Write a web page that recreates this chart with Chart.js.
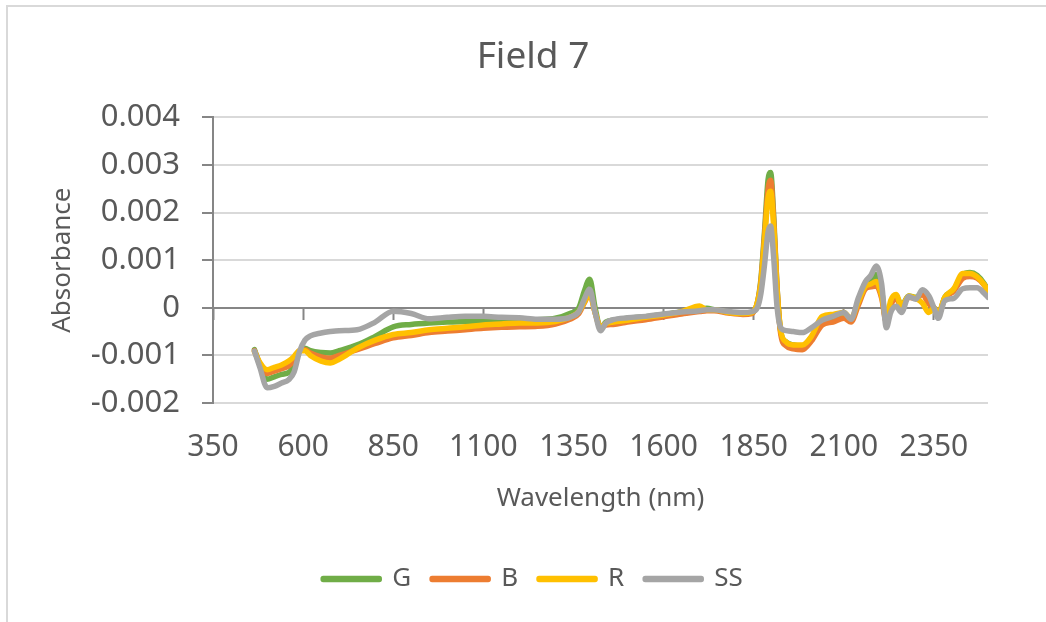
<!DOCTYPE html>
<html>
<head>
<meta charset="utf-8">
<script src="https://cdn.jsdelivr.net/npm/chart.js@4.4.1/dist/chart.umd.min.js"></script>
<style>
  html, body { margin: 0; padding: 0; background: #ffffff; overflow: hidden; width: 1046px; height: 622px; }
  #frame { position: absolute; left: 6px; top: 5px; width: 1200px; height: 800px;
           border-top: 2px solid #d9d9d9; border-left: 2px solid #d9d9d9; }
  #wrap { position: absolute; left: 0; top: 0; width: 1066px; height: 622px; }
</style>
</head>
<body>
<div id="frame"></div>
<div id="wrap"><canvas id="c" width="1066" height="622"></canvas></div>
<script>
// ---- data ----
const chartTitle = "Field 7";
const xTitle = "Wavelength (nm)";
const yTitle = "Absorbance";
const seriesNames = ["G", "B", "R", "SS"];
const xTickValues = [350, 600, 850, 1100, 1350, 1600, 1850, 2100, 2350];
const yTickValues = [-0.002, -0.001, 0, 0.001, 0.002, 0.003, 0.004];

const wavelengths = [465, 480, 500, 520, 540, 560, 575, 590, 605, 620, 650, 675, 700, 750, 800, 850, 900, 950,
  1000, 1050, 1100, 1150, 1200, 1250, 1300, 1340, 1365, 1380, 1395, 1410, 1425, 1440, 1460, 1500, 1550,
  1600, 1650, 1700, 1720, 1740, 1780, 1820, 1845, 1860, 1870, 1880, 1890, 1897, 1905, 1915, 1925, 1940,
  1960, 1985, 2010, 2040, 2070, 2100, 2120, 2140, 2160, 2175, 2190, 2205, 2218, 2230, 2245, 2260, 2280,
  2300, 2318, 2336, 2350, 2362, 2380, 2405, 2430, 2450, 2470, 2490, 2500];

const gValues = [-0.00088, -0.00120, -0.00150, -0.00145, -0.00140, -0.00136, -0.00120, -0.00092, -0.00085, -0.00090,
  -0.00094, -0.00095, -0.00090, -0.00078, -0.00060, -0.00040, -0.00035, -0.00032, -0.00030, -0.00029,
  -0.00028, -0.00027, -0.00026, -0.00025, -0.00022, -0.00012, 0.00000, 0.00035, 0.00060, 0.00000,
  -0.00042, -0.00030, -0.00026, -0.00022, -0.00019, -0.00014, -0.00009, -0.00003, -0.00001, -0.00004,
  -0.00009, -0.00012, -0.00010, 0.00010, 0.00060, 0.00160, 0.00270, 0.00284, 0.00200, 0.00040,
  -0.00050, -0.00072, -0.00078, -0.00080, -0.00062, -0.00030, -0.00024, -0.00014, -0.00026, 0.00012,
  0.00048, 0.00055, 0.00070, 0.00035, -0.00030, 0.00008, 0.00025, 0.00005, 0.00025, 0.00022,
  0.00030, 0.00010, 0.00000, -0.00015, 0.00022, 0.00038, 0.00070, 0.00074, 0.00068, 0.00050, 0.00035];

const bValues = [-0.00090, -0.00118, -0.00138, -0.00133, -0.00128, -0.00122, -0.00110, -0.00090, -0.00088, -0.00095,
  -0.00103, -0.00106, -0.00100, -0.00088, -0.00075, -0.00063, -0.00058, -0.00052, -0.00049, -0.00046,
  -0.00043, -0.00041, -0.00040, -0.00039, -0.00034, -0.00024, -0.00012, 0.00010, 0.00030, -0.00010,
  -0.00040, -0.00036, -0.00035, -0.00030, -0.00025, -0.00019, -0.00013, -0.00008, -0.00006, -0.00006,
  -0.00011, -0.00014, -0.00012, 0.00010, 0.00055, 0.00150, 0.00250, 0.00268, 0.00190, 0.00040,
  -0.00055, -0.00080, -0.00086, -0.00088, -0.00070, -0.00036, -0.00030, -0.00022, -0.00030, 0.00005,
  0.00040, 0.00044, 0.00046, 0.00020, -0.00030, 0.00005, 0.00020, 0.00002, 0.00022, 0.00020,
  0.00028, 0.00008, 0.00000, -0.00015, 0.00020, 0.00035, 0.00062, 0.00066, 0.00062, 0.00047, 0.00033];

const rValues = [-0.00092, -0.00115, -0.00130, -0.00125, -0.00120, -0.00112, -0.00102, -0.00090, -0.00090, -0.00100,
  -0.00112, -0.00116, -0.00108, -0.00085, -0.00068, -0.00056, -0.00052, -0.00046, -0.00043, -0.00040,
  -0.00036, -0.00034, -0.00032, -0.00032, -0.00029, -0.00020, -0.00008, 0.00012, 0.00030, -0.00010,
  -0.00040, -0.00033, -0.00030, -0.00026, -0.00020, -0.00015, -0.00008, 0.00004, -0.00004, -0.00004,
  -0.00010, -0.00012, -0.00010, 0.00010, 0.00050, 0.00140, 0.00232, 0.00245, 0.00175, 0.00035,
  -0.00048, -0.00072, -0.00078, -0.00078, -0.00060, -0.00018, -0.00014, -0.00010, -0.00022, 0.00012,
  0.00045, 0.00050, 0.00055, 0.00025, -0.00025, 0.00015, 0.00028, 0.00003, 0.00025, 0.00020,
  0.00010, -0.00010, 0.00000, -0.00012, 0.00022, 0.00040, 0.00072, 0.00072, 0.00065, 0.00048, 0.00035];

const ssValues = [-0.00091, -0.00125, -0.00168, -0.00165, -0.00158, -0.00151, -0.00135, -0.00092, -0.00068, -0.00059,
  -0.00053, -0.00050, -0.00048, -0.00046, -0.00030, -0.00007, -0.00012, -0.00023, -0.00020, -0.00018,
  -0.00018, -0.00020, -0.00021, -0.00024, -0.00024, -0.00020, -0.00008, 0.00018, 0.00039, -0.00010,
  -0.00048, -0.00032, -0.00025, -0.00021, -0.00018, -0.00013, -0.00009, -0.00006, -0.00004, -0.00004,
  -0.00008, -0.00010, -0.00008, 0.00000, 0.00030, 0.00090, 0.00160, 0.00172, 0.00110, 0.00000,
  -0.00042, -0.00048, -0.00050, -0.00052, -0.00042, -0.00026, -0.00018, -0.00010, -0.00024, 0.00020,
  0.00055, 0.00068, 0.00088, 0.00050, -0.00042, -0.00010, 0.00003, -0.00010, 0.00024, 0.00018,
  0.00038, 0.00025, 0.00000, -0.00022, 0.00015, 0.00020, 0.00040, 0.00042, 0.00042, 0.00030, 0.00022];

const seriesColors = ["#70AD47", "#ED7D31", "#FFC000", "#A5A5A5"];

// ---- chart ----
const FONT = "'Noto Sans', 'Open Sans', sans-serif";
const TEXT = "#595959";
const AXIS = "#868686";
const GRID = "#d9d9d9";

const valueSets = [gValues, bValues, rValues, ssValues];
function pts(vals) { return wavelengths.map((w, i) => ({ x: w, y: vals[i] })); }

// SS listed first so it is drawn on top (Chart.js draws index 0 last)
const order = [3, 2, 1, 0];
const datasets = order.map(i => ({
  label: seriesNames[i],
  data: pts(valueSets[i]),
  borderColor: seriesColors[i],
  backgroundColor: seriesColors[i],
  borderWidth: 5.5,
  pointRadius: 0,
  cubicInterpolationMode: 'monotone',
  borderCapStyle: 'round',
  borderJoinStyle: 'round',
  legendRank: i
}));

function setTicks(values) {
  return function (scale) { scale.ticks = values.map(v => ({ value: v })); };
}

new Chart(document.getElementById('c'), {
  type: 'line',
  data: { datasets },
  options: {
    responsive: false,
    animation: false,
    events: [],
    layout: { padding: { left: 0, right: 0, top: 0, bottom: 20 } },
    plugins: {
      tooltip: { enabled: false },
      title: {
        display: true, text: chartTitle, color: TEXT,
        font: { family: FONT, size: 37, weight: 'normal' },
        padding: { top: 35, bottom: 38 }
      },
      legend: {
        position: 'bottom',
        labels: {
          color: TEXT,
          font: { family: FONT, size: 26 },
          boxWidth: 56, boxHeight: 1,
          padding: 21,
          sort: (a, b) => datasets[a.datasetIndex].legendRank - datasets[b.datasetIndex].legendRank
        }
      }
    },
    scales: {
      x: {
        type: 'linear', min: 350, max: 2500,
        position: { y: 0 },
        afterBuildTicks: setTicks(xTickValues),
        ticks: { display: false },
        grid: { drawOnChartArea: false, drawTicks: true, tickLength: 11, tickColor: AXIS, tickWidth: 2, color: AXIS },
        border: { display: true, color: AXIS, width: 2 }
      },
      x2: {
        type: 'linear', min: 350, max: 2500, position: 'bottom',
        afterBuildTicks: setTicks(xTickValues),
        afterFit: s => { s.height = 142; },
        ticks: { color: TEXT, font: { family: FONT, size: 30 }, padding: 26, maxRotation: 0, autoSkip: false,
                 callback: v => String(v) },
        grid: { display: false, drawTicks: false },
        border: { display: false },
        title: { display: true, text: xTitle, color: TEXT, font: { family: FONT, size: 26 },
                 padding: { top: 0, bottom: 31 } }
      },
      y: {
        type: 'linear', min: -0.002, max: 0.004, position: 'left',
        afterBuildTicks: setTicks(yTickValues),
        afterFit: s => { s.width = 213; },
        ticks: { color: TEXT, font: { family: FONT, size: 31 }, padding: 22,
                 callback: v => String(Math.round(v * 1000) / 1000) },
        grid: {
          color: c => (c.tick && Math.abs(c.tick.value) < 1e-9) ? AXIS : GRID,
          lineWidth: 2, tickLength: 11, tickColor: AXIS, tickWidth: 2
        },
        border: { display: true, color: AXIS, width: 2 },
        title: { display: true, text: yTitle, color: TEXT, font: { family: FONT, size: 26 },
                 padding: { top: 47, bottom: 0 } }
      },
      yRightSpace: {
        type: 'linear', position: 'right', min: 0, max: 1,
        afterFit: s => { s.width = 78; },
        ticks: { display: false },
        grid: { display: false, drawTicks: false },
        border: { display: false }
      }
    }
  }
});
</script>
</body>
</html>
